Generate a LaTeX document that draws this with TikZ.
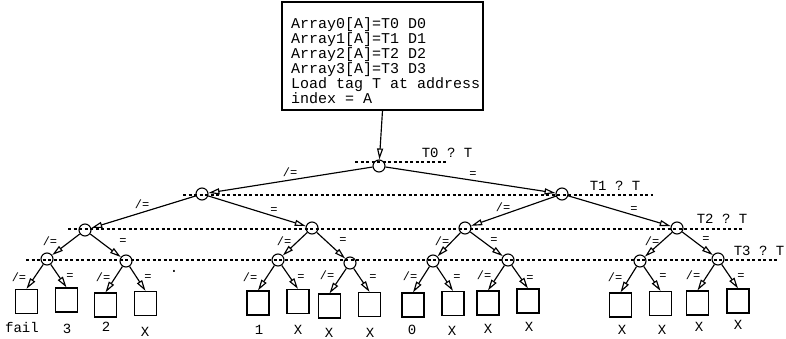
\documentclass[tikz,border=0pt]{standalone}
\usepackage{fontspec}
\setmonofont{Liberation Mono}
\usetikzlibrary{arrows.meta}
\begin{document}
\begin{tikzpicture}[x=1pt,y=-1pt,
  inner/.style={circle,draw,line width=1.1pt,minimum size=12pt,inner sep=0pt},
  leaf/.style={rectangle,draw,line width=1.2pt,minimum width=22pt,minimum height=24pt,inner sep=0pt},
  edge/.style={line width=1.15pt,-{Triangle[open,length=11pt,width=6pt]}},
  elab/.style={font=\fontsize{12}{12}\selectfont\ttfamily,inner sep=0pt},
  llab/.style={font=\fontsize{14}{14}\selectfont\ttfamily,inner sep=0pt},
  tlab/.style={font=\fontsize{14}{14}\selectfont\ttfamily,inner sep=0pt},
  level/.style={line width=1.1pt,dash pattern=on 3pt off 2.5pt}]
\useasboundingbox (0,0) rectangle (786,339);

% instruction box
\node[draw,line width=1.1pt,minimum width=201pt,minimum height=108pt,inner sep=0pt] (box) at (382.5,56) {};
\node[anchor=west,align=left,inner sep=0pt,font=\fontsize{15}{15}\selectfont\ttfamily] (code) at (291,61)
  {Array0[A]=T0 D0\\Array1[A]=T1 D1\\Array2[A]=T2 D2\\Array3[A]=T3 D3\\Load tag T at address\\index = A};

% comparison levels
\coordinate (d0a) at (355,162); \coordinate (d0b) at (447,162);
\coordinate (d1a) at (183,195); \coordinate (d1b) at (653,195);
\coordinate (d2a) at (68,229);  \coordinate (d2b) at (742,229);
\coordinate (d3a) at (26,260);  \coordinate (d3b) at (778,260);
\draw[level] (d0a) -- (d0b);
\draw[level] (d1a) -- (d1b);
\draw[level] (d2a) -- (d2b);
\draw[level] (d3a) -- (d3b);
\node[tlab] (t0) at (447,153) {T0 ? T};
\node[tlab] (t1) at (615,186) {T1 ? T};
\node[tlab] (t2) at (722,219) {T2 ? T};
\node[tlab] (t3) at (759,251) {T3 ? T};

% decision nodes
\node[inner] (r) at (379,166) {};
\node[inner] (a) at (202,194) {};
\node[inner] (b) at (562,194) {};
\node[inner] (c) at (85,230) {};
\node[inner] (d) at (312,228) {};
\node[inner] (e) at (465,228) {};
\node[inner] (f) at (677,228) {};
\node[inner] (g) at (47,259) {};
\node[inner] (h) at (126,261) {};
\node[inner] (i) at (278,260) {};
\node[inner] (j) at (350,263) {};
\node[inner] (k) at (433,261) {};
\node[inner] (l) at (508,260) {};
\node[inner] (m) at (640,261) {};
\node[inner] (n) at (718,259) {};

% result boxes
\node[leaf] (L1) at (26.5,301.5) {};
\node[leaf] (L2) at (66.5,300) {};
\node[leaf] (L3) at (105.5,305) {};
\node[leaf] (L4) at (145.5,303.5) {};
\node[leaf] (L5) at (258,303) {};
\node[leaf] (L6) at (298,301.5) {};
\node[leaf] (L7) at (329.5,306) {};
\node[leaf] (L8) at (369.5,304.5) {};
\node[leaf] (L9) at (413,305) {};
\node[leaf] (L10) at (453,303.5) {};
\node[leaf] (L11) at (488,303) {};
\node[leaf] (L12) at (528,301) {};
\node[leaf] (L13) at (620.5,305) {};
\node[leaf] (L14) at (660.5,303.5) {};
\node[leaf] (L15) at (697.5,303) {};
\node[leaf] (L16) at (738,301) {};

% result labels
\node[llab] (o1) at (22,327) {fail};
\node[llab] (o2) at (67,329) {3};
\node[llab] (o3) at (106,327) {2};
\node[llab] (o4) at (145,332) {X};
\node[llab] (o5) at (259,330) {1};
\node[llab] (o6) at (298,330) {X};
\node[llab] (o7) at (329,333) {X};
\node[llab] (o8) at (370,333) {X};
\node[llab] (o9) at (412,330) {0};
\node[llab] (o10) at (452,331) {X};
\node[llab] (o11) at (488,329) {X};
\node[llab] (o12) at (529,327) {X};
\node[llab] (o13) at (622,330) {X};
\node[llab] (o14) at (662,330) {X};
\node[llab] (o15) at (699,327) {X};
\node[llab] (o16) at (738,325) {X};
\node[llab] (dot) at (174,271) {.};

% connectors
\draw[edge] (box.south) -- (r);
\draw[edge] (r) -- (a);  \draw[edge] (r) -- (b);
\draw[edge] (a) -- (c);  \draw[edge] (a) -- (d);
\draw[edge] (b) -- (e);  \draw[edge] (b) -- (f);
\draw[edge] (c) -- (g);  \draw[edge] (c) -- (h);
\draw[edge] (d) -- (i);  \draw[edge] (d) -- (j);
\draw[edge] (e) -- (k);  \draw[edge] (e) -- (l);
\draw[edge] (f) -- (m);  \draw[edge] (f) -- (n);
\draw[edge] (g) -- (L1.north);  \draw[edge] (g) -- (L2.north);
\draw[edge] (h) -- (L3.north);  \draw[edge] (h) -- (L4.north);
\draw[edge] (i) -- (L5.north);  \draw[edge] (i) -- (L6.north);
\draw[edge] (j) -- (L7.north);  \draw[edge] (j) -- (L8.north);
\draw[edge] (k) -- (L9.north);  \draw[edge] (k) -- (L10.north);
\draw[edge] (l) -- (L11.north); \draw[edge] (l) -- (L12.north);
\draw[edge] (m) -- (L13.north); \draw[edge] (m) -- (L14.north);
\draw[edge] (n) -- (L15.north); \draw[edge] (n) -- (L16.north);

% branch labels
\node[elab] at (290,172) {/=};  \node[elab] at (473,175) {=};
\node[elab] at (142,204) {/=};  \node[elab] at (274,211) {=};
\node[elab] at (503,207) {/=};  \node[elab] at (634,210) {=};
\node[elab] at (50,241) {/=};   \node[elab] at (123,242) {=};
\node[elab] at (284,241) {/=};  \node[elab] at (343,241) {=};
\node[elab] at (442,241) {/=};  \node[elab] at (494,241) {=};
\node[elab] at (652,241) {/=};  \node[elab] at (706,240) {=};
\node[elab] at (19,277) {/=};   \node[elab] at (70,277) {=};
\node[elab] at (103,277) {/=};  \node[elab] at (148,278) {=};
\node[elab] at (250,277) {/=};  \node[elab] at (301,278) {=};
\node[elab] at (327,275) {/=};  \node[elab] at (373,278) {=};
\node[elab] at (410,276) {/=};  \node[elab] at (457,278) {=};
\node[elab] at (484,275) {/=};  \node[elab] at (530,279) {=};
\node[elab] at (615,277) {/=};  \node[elab] at (663,277) {=};
\node[elab] at (693,275) {/=};  \node[elab] at (741,277) {=};
\end{tikzpicture}
\end{document}
